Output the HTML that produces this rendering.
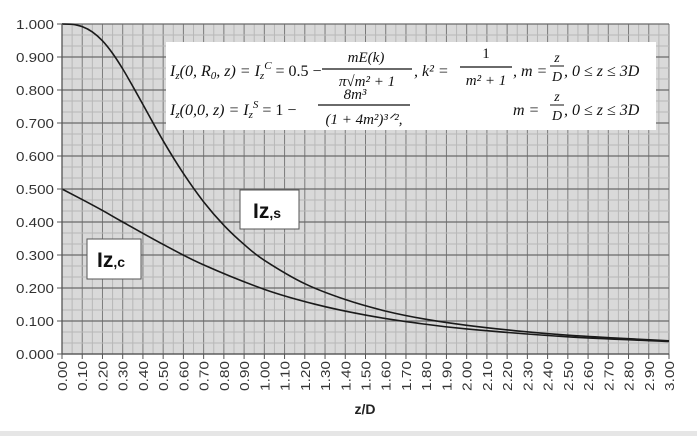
<!DOCTYPE html>
<html><head><meta charset="utf-8"><style>
body{margin:0;background:#fff;}
svg{display:block;font-family:"Liberation Sans",Arial,sans-serif;}
.f{font-family:"Liberation Serif",serif;font-style:italic;}
</style></head><body>
<svg id="chart" width="697" height="436" viewBox="0 0 697 436">
<rect x="0" y="0" width="697" height="436" fill="#fff"/>
<rect x="0" y="431" width="697" height="5" fill="#e6e6e6"/>
<rect x="62" y="24" width="607" height="330" fill="#d9d9d9"/>
<g id="grid"></g>
<g id="series"></g>
<g id="axes"></g>
<g>
<rect x="166" y="42" width="490" height="88" fill="#fff"/>
<text class="f" x="170" y="76" font-size="16" fill="#111">I<tspan font-size="11" dy="3">z</tspan><tspan dy="-3">(0, R</tspan><tspan font-size="11" dy="3">0</tspan><tspan dy="-3">, z) = I</tspan><tspan font-size="11" dy="3">z</tspan><tspan font-size="11" dy="-10">C</tspan><tspan dy="7" font-style="normal"> = 0.5 −</tspan></text>
<text class="f" x="366" y="62" font-size="15" fill="#111" text-anchor="middle">mE(k)</text>
<line x1="322" y1="69" x2="412" y2="69" stroke="#111" stroke-width="1.2"/>
<text class="f" x="367" y="86" font-size="15" fill="#111" text-anchor="middle">π√m² + 1</text>
<text class="f" x="414" y="76" font-size="16" fill="#111">, k² =</text>
<text x="486" y="58" font-size="15" fill="#111" font-family="Liberation Serif" text-anchor="middle">1</text>
<line x1="460" y1="67" x2="512" y2="67" stroke="#111" stroke-width="1.2"/>
<text class="f" x="486" y="85" font-size="15" fill="#111" text-anchor="middle">m² + 1</text>
<text class="f" x="513" y="76" font-size="16" fill="#111">, m =</text>
<text class="f" x="557" y="62" font-size="14" fill="#111" text-anchor="middle">z</text>
<line x1="550" y1="66" x2="564" y2="66" stroke="#111"/>
<text class="f" x="557" y="81" font-size="14" fill="#111" text-anchor="middle">D</text>
<text class="f" x="564" y="76" font-size="16" fill="#111">, 0 ≤ z ≤ 3D</text>
<text class="f" x="170" y="115" font-size="16" fill="#111">I<tspan font-size="11" dy="3">z</tspan><tspan dy="-3">(0,0, z) = I</tspan><tspan font-size="11" dy="3">z</tspan><tspan font-size="11" dy="-10">S</tspan><tspan dy="7" font-style="normal"> = 1 −</tspan></text>
<text class="f" x="355" y="99" font-size="15" fill="#111" text-anchor="middle">8m³</text>
<line x1="318" y1="105" x2="410" y2="105" stroke="#111" stroke-width="1.2"/>
<text class="f" x="364" y="124" font-size="15" fill="#111" text-anchor="middle">(1 + 4m²)³ᐟ²,</text>
<text class="f" x="513" y="115" font-size="16" fill="#111">m =</text>
<text class="f" x="557" y="101" font-size="14" fill="#111" text-anchor="middle">z</text>
<line x1="550" y1="105" x2="564" y2="105" stroke="#111"/>
<text class="f" x="557" y="120" font-size="14" fill="#111" text-anchor="middle">D</text>
<text class="f" x="564" y="115" font-size="16" fill="#111">, 0 ≤ z ≤ 3D</text>
</g>
<g>
<rect x="240" y="190" width="59" height="39" fill="#fff" stroke="#555"/>
<text x="253" y="218" font-size="21" font-weight="bold" fill="#111" font-family="Liberation Sans Narrow, Liberation Sans, sans-serif">Iz<tspan font-size="14">,s</tspan></text>
</g>
<g>
<rect x="87" y="239" width="54" height="40" fill="#fff" stroke="#555"/>
<text x="97" y="267" font-size="21" font-weight="bold" fill="#111" font-family="Liberation Sans Narrow, Liberation Sans, sans-serif">Iz<tspan font-size="14">,c</tspan></text>
</g>
<text x="365" y="414" font-size="14" font-weight="bold" text-anchor="middle" fill="#222">z/D</text>
</svg>
<script>
const xsS=[0,0.05,0.1,0.15,0.2,0.25,0.3,0.35,0.4,0.5,0.6,0.7,0.8,0.9,1.0,1.2,1.4,1.6,1.8,2.0,2.25,2.5,2.75,3.0];
const valsS=[1,0.999,0.992,0.976,0.949,0.911,0.864,0.811,0.756,0.646,0.547,0.461,0.390,0.332,0.284,0.213,0.165,0.130,0.105,0.087,0.070,0.057,0.048,0.040];
const xsC=[0,0.1,0.2,0.3,0.5,0.7,1.0,1.25,1.5,1.75,2.0,2.5,3.0];
const valsC=[0.5,0.468,0.435,0.400,0.332,0.270,0.196,0.151,0.118,0.094,0.076,0.052,0.038];
const yTicks=["0.000","0.100","0.200","0.300","0.400","0.500","0.600","0.700","0.800","0.900","1.000"];
const xTicks=[];for(let i=0;i<=30;i++)xTicks.push((i/10).toFixed(2));
const NS="http://www.w3.org/2000/svg";
const X=v=>62+v/3*607, Y=v=>354-v*330;
function mk(t,a,p){const e=document.createElementNS(NS,t);for(const k in a)e.setAttribute(k,a[k]);p.appendChild(e);return e;}
const grid=document.getElementById('grid'),axes=document.getElementById('axes'),ser=document.getElementById('series');
for(let i=0;i<=60;i++){const v=i*0.05;const l=mk('line',{x1:X(v),x2:X(v),y1:24,y2:354,stroke:i%2?'#b8b8b8':'#7a7a7a','stroke-width':1},grid);

}
for(let i=0;i<=30;i++){const v=i/30;const l=mk('line',{x1:62,x2:669,y1:Y(v),y2:Y(v),stroke:i%3?'#b8b8b8':'#6a6a6a','stroke-width':i%3?1:1.3},grid);

}
mk('line',{x1:62,x2:62,y1:24,y2:354,stroke:'#555','stroke-width':1.3},axes);
mk('line',{x1:62,x2:669,y1:354,y2:354,stroke:'#555','stroke-width':1.3},axes);
yTicks.forEach(t=>{const v=parseFloat(t);
mk('line',{x1:57,x2:62,y1:Y(v),y2:Y(v),stroke:'#555'},axes);
const e=mk('text',{x:54,y:Y(v)+5,'font-size':13,'text-anchor':'end',fill:'#333',textLength:38,lengthAdjust:'spacingAndGlyphs'},axes);e.textContent=t;

});
xTicks.forEach(t=>{const v=parseFloat(t),x=X(v);
mk('line',{x1:x,x2:x,y1:354,y2:359,stroke:'#555'},axes);
const e=mk('text',{x:0,y:0,'font-size':13,'text-anchor':'end',fill:'#333',transform:`translate(${x+5},361) rotate(-90)`,textLength:30,lengthAdjust:'spacingAndGlyphs'},axes);e.textContent=t;

});
function path(xs,vs){const p=xs.map((x,i)=>[X(x),Y(vs[i])]);let d=`M${p[0][0]},${p[0][1]}`;
for(let i=0;i<p.length-1;i++){const p0=p[Math.max(0,i-1)],p1=p[i],p2=p[i+1],p3=p[Math.min(p.length-1,i+2)];
d+=` C${p1[0]+(p2[0]-p0[0])/6},${p1[1]+(p2[1]-p0[1])/6} ${p2[0]-(p3[0]-p1[0])/6},${p2[1]-(p3[1]-p1[1])/6} ${p2[0]},${p2[1]}`;}return d;}
const s=mk('path',{d:path(xsS,valsS),fill:'none',stroke:'#1a1a1a','stroke-width':1.6},ser);


const c=mk('path',{d:path(xsC,valsC),fill:'none',stroke:'#1a1a1a','stroke-width':1.6},ser);


</script>
</body></html>
